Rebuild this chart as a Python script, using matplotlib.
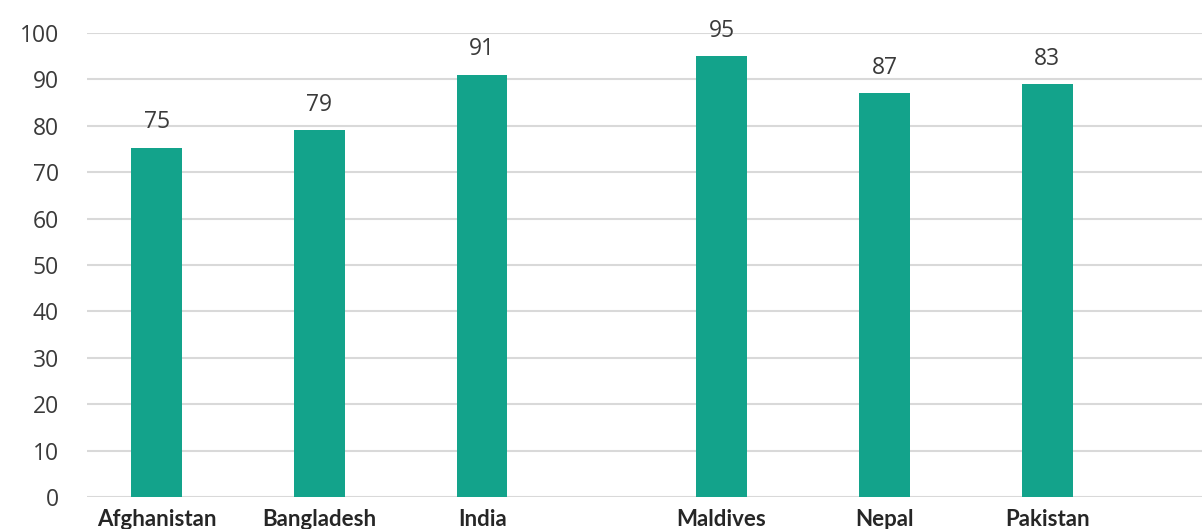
import matplotlib.pyplot as plt

# data
countries = ["Afghanistan", "Bangladesh", "India", "Maldives", "Nepal", "Pakistan"]
bar_values = [75.3, 79, 91, 95, 87, 89]
label_values = ["75", "79", "91", "95", "87", "83"]
y_ticks = [0, 10, 20, 30, 40, 50, 60, 70, 80, 90, 100]

# layout: there is a wider gap between India and Maldives
x_pos = [0, 1, 2, 3.47, 4.47, 5.47]

fig = plt.figure(figsize=(12.02, 5.29), dpi=100)
ax = fig.add_axes([0.072, 0.0605, 0.928, 0.877])

ax.bar(x_pos, bar_values, width=0.31, color="#13a38b", zorder=3)

for x, v, lab in zip(x_pos, bar_values, label_values):
    ax.annotate(lab, (x, v), xytext=(0, 14), textcoords="offset points",
                ha="center", va="baseline", fontsize=16.5, color="#3a3a3a",
                family="Open Sans", annotation_clip=False)

ax.set_xlim(-0.43, 6.42)
ax.set_ylim(0, 100)
ax.set_yticks(y_ticks)
ax.set_yticklabels([str(t) for t in y_ticks], fontsize=16.5, color="#3a3a3a", family="Open Sans")
ax.set_xticks(x_pos)
ax.set_xticklabels(countries, fontsize=16, fontweight="bold", color="#262626", family="Lato")

ax.grid(axis="y", color="#d9d9d9", linewidth=1.5, zorder=0)
ax.tick_params(axis="y", length=0, pad=20)
ax.tick_params(axis="x", length=0, pad=9)
for s in ax.spines.values():
    s.set_visible(False)

plt.savefig("out.png", dpi=100)
